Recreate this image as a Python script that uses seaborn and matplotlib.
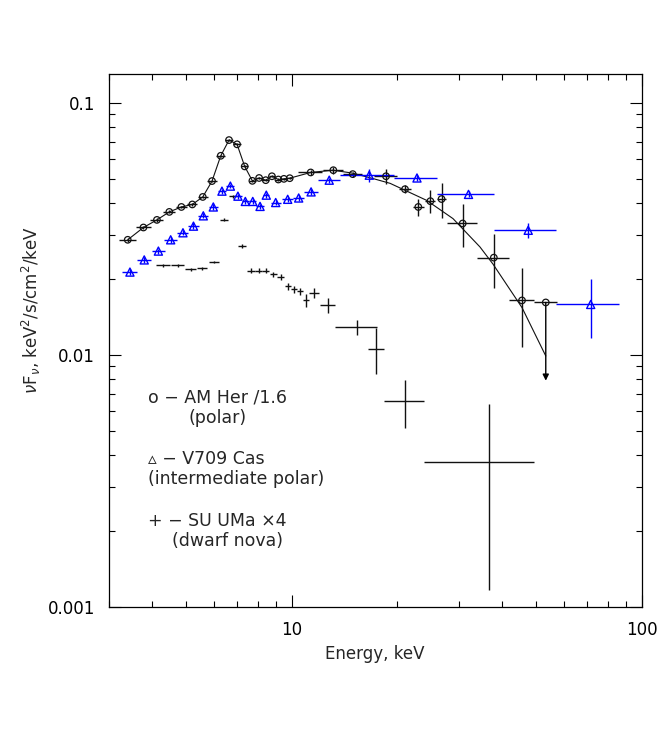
import matplotlib
matplotlib.use("Agg")
import matplotlib.pyplot as plt
import matplotlib.ticker as mticker
import seaborn as sns
import pandas as pd

# AM Her (divided by 1.6): energy, flux, half bin width, flux error
amher_e = [3.40, 3.77, 4.12, 4.47, 4.84, 5.20, 5.57, 5.92, 6.27, 6.62, 6.98, 7.34, 7.72,
           8.07, 8.43, 8.78, 9.16, 9.50, 9.87, 11.33, 13.15, 14.94, 18.6, 21.07, 23.0,
           24.9, 26.8, 30.8, 37.8, 45.5]
amher_f = [0.0286, 0.0320, 0.0343, 0.0369, 0.0386, 0.0395, 0.0423, 0.0489, 0.0616, 0.0711,
           0.0684, 0.0559, 0.0490, 0.0503, 0.0493, 0.0511, 0.0496, 0.0499, 0.0502, 0.0529,
           0.0540, 0.0521, 0.0511, 0.0454, 0.0386, 0.0407, 0.0415, 0.0332, 0.0243, 0.01644]
amher_ex = [0.18, 0.18, 0.18, 0.18, 0.18, 0.18, 0.18, 0.18, 0.18, 0.18, 0.18, 0.18, 0.18,
            0.18, 0.18, 0.18, 0.18, 0.18, 0.18, 0.91, 0.90, 0.97, 1.4, 0.8, 0.8,
            0.85, 0.85, 3.05, 3.9, 3.8]
amher_fe = [0.0005, 0.0005, 0.0005, 0.0005, 0.0005, 0.0005, 0.0005, 0.0005, 0.0006, 0.0006,
            0.0006, 0.0006, 0.0005, 0.0005, 0.0005, 0.0005, 0.0005, 0.0005, 0.0005, 0.0011,
            0.0018, 0.0012, 0.0037, 0.0017, 0.0030, 0.0043, 0.0067, 0.0064, 0.0058, 0.0057]

# AM Her upper limit
ul_e, ul_ex, ul_f, ul_to = 53.2, 3.9, 0.01614, 0.0079

# model curve through AM Her above 10 keV
model_e = [11.33, 13.1, 14.9, 17.1, 19.1, 24.3, 28.9, 34.5, 37.6, 45.5, 53.2]
model_f = [0.0529, 0.0540, 0.0526, 0.0500, 0.0479, 0.0410, 0.0347, 0.0268, 0.0229, 0.0154, 0.0099]

# V709 Cas
v709_e = [3.45, 3.79, 4.16, 4.51, 4.89, 5.24, 5.59, 5.97, 6.32, 6.68, 7.02, 7.37, 7.74,
          8.12, 8.46, 9.00, 9.74, 10.47, 11.36, 12.8, 16.66, 22.8, 32.0, 47.4, 71.5]
v709_f = [0.0213, 0.0238, 0.0258, 0.0286, 0.0305, 0.0324, 0.0356, 0.0386, 0.0446, 0.0467,
          0.0426, 0.0406, 0.0406, 0.0388, 0.0430, 0.0402, 0.0414, 0.0419, 0.0443, 0.0493,
          0.0516, 0.0503, 0.0433, 0.0312, 0.01585]
v709_ex = [0.17, 0.17, 0.18, 0.18, 0.18, 0.18, 0.18, 0.18, 0.18, 0.18, 0.18, 0.18, 0.19,
           0.19, 0.17, 0.29, 0.34, 0.40, 0.50, 0.90, 2.9, 3.2, 5.95, 9.6, 14.5]
v709_fe = [0.0006, 0.0006, 0.0006, 0.0007, 0.0007, 0.0008, 0.0008, 0.0009, 0.0010, 0.0010,
           0.0010, 0.0010, 0.0010, 0.0010, 0.0010, 0.0010, 0.0010, 0.0010, 0.0011, 0.0012,
           0.0032, 0.0013, 0.0012, 0.0021, 0.0042]

# SU UMa (x4)
suuma_e = [4.29, 4.72, 5.15, 5.55, 6.00, 6.41, 6.81, 7.22, 7.64, 8.05, 8.43, 8.86, 9.30,
           9.74, 10.15, 10.56, 11.0, 11.58, 12.67, 15.4, 17.4, 21.1, 36.6]
suuma_f = [0.02264, 0.02264, 0.02183, 0.02208, 0.02334, 0.0344, 0.0426, 0.0270, 0.0216,
           0.0216, 0.0216, 0.0209, 0.0204, 0.01868, 0.01818, 0.01786, 0.01643, 0.01758,
           0.0157, 0.01288, 0.01057, 0.00654, 0.00377]
suuma_ex = [0.19, 0.19, 0.19, 0.19, 0.19, 0.17, 0.17, 0.20, 0.20, 0.20, 0.20, 0.20, 0.20,
            0.20, 0.20, 0.20, 0.20, 0.37, 0.62, 2.1, 0.9, 2.8, 12.7]
suuma_fe = [0.0003, 0.0003, 0.0003, 0.0003, 0.0003, 0.0005, 0.0006, 0.0005, 0.0005,
            0.0005, 0.0005, 0.0005, 0.0005, 0.0006, 0.0006, 0.0006, 0.0010, 0.0008,
            0.0011, 0.0009, 0.0022, 0.0014, 0.0026]

legend_lines = ["o \u2212 AM Her /1.6", "(polar)",
                "\u25b5 \u2212 V709 Cas", "(intermediate polar)",
                "+ \u2212 SU UMa \u00d74", "(dwarf nova)"]

sns.set_style("ticks")
plt.rcParams["font.family"] = ["DejaVu Sans"]

W, H = 664, 729
fig = plt.figure(figsize=(W / 100, H / 100), dpi=100)
ax = fig.add_axes([108.7 / W, 1 - 607 / H, 533 / W, 533 / H])
ax.set_xscale("log")
ax.set_yscale("log")

blue = "#0000ff"
black = "#111111"

# model line (through the low energy AM Her points)
line_df = pd.DataFrame({"E": amher_e[:19] + model_e, "F": amher_f[:19] + model_f})
sns.lineplot(data=line_df, x="E", y="F", ax=ax, color=black, lw=0.8,
             sort=False, estimator=None)

# error bars
ax.errorbar(suuma_e, suuma_f, xerr=suuma_ex, yerr=suuma_fe, fmt="none",
            ecolor=black, elinewidth=1.0, capsize=0)
ax.errorbar(amher_e, amher_f, xerr=amher_ex, yerr=amher_fe, fmt="none",
            ecolor=black, elinewidth=1.0, capsize=0)
ax.errorbar(v709_e, v709_f, xerr=v709_ex, yerr=v709_fe, fmt="none",
            ecolor=blue, elinewidth=1.0, capsize=0)
ax.errorbar([ul_e], [ul_f], xerr=[ul_ex], fmt="none", ecolor=black,
            elinewidth=1.0, capsize=0)
ax.annotate("", xy=(ul_e, ul_to), xytext=(ul_e, ul_f),
            arrowprops=dict(arrowstyle="-|>", color="black", lw=1.0,
                            mutation_scale=9, shrinkA=0, shrinkB=0))

# markers
am_df = pd.DataFrame({"E": amher_e + [ul_e], "F": amher_f + [ul_f]})
sns.scatterplot(data=am_df, x="E", y="F", ax=ax, marker="o", s=22,
                facecolor="none", edgecolor=black, linewidth=0.9, zorder=5)
v_df = pd.DataFrame({"E": v709_e, "F": v709_f})
sns.scatterplot(data=v_df, x="E", y="F", ax=ax, marker="^", s=34,
                facecolor="none", edgecolor=blue, linewidth=1.0, zorder=5)

ax.set_xlim(3, 100)
ax.set_ylim(0.001, 0.13)
ax.set_xticks([10, 100], ["10", "100"])
ax.set_yticks([0.001, 0.01, 0.1], ["0.001", "0.01", "0.1"])
ax.xaxis.set_minor_locator(mticker.LogLocator(base=10, subs=range(2, 10)))
ax.yaxis.set_minor_locator(mticker.LogLocator(base=10, subs=range(2, 10)))
ax.xaxis.set_minor_formatter(mticker.NullFormatter())
ax.yaxis.set_minor_formatter(mticker.NullFormatter())
ax.tick_params(which="both", direction="in", top=True, right=True,
               width=0.8, colors="black", labelsize=12, pad=10)
ax.tick_params(which="major", length=8.6)
ax.tick_params(which="minor", length=4.3)
for sp in ax.spines.values():
    sp.set_linewidth(0.9)
    sp.set_color("black")

ax.set_xlabel("")
ax.set_ylabel("")
fig.text(375 / W, 1 - 654 / H, "Energy, keV", ha="center", va="center", fontsize=12)
fig.text(31 / W, 1 - 310 / H, r"$\nu$F$_\nu$, keV$^2$/s/cm$^2$/keV", rotation=90,
         ha="center", va="center", fontsize=12)

legend_pos = [(148, 397.7, "left"), (218, 418.3, "center"),
              (148, 459.3, "left"), (148, 479.3, "left"),
              (148, 521, "left"), (228, 541, "center")]
for (lx, ly, ha), txt in zip(legend_pos, legend_lines):
    fig.text(lx / W, 1 - ly / H, txt, ha=ha, va="center", fontsize=12.5)

fig.savefig("out.png", dpi=100)
